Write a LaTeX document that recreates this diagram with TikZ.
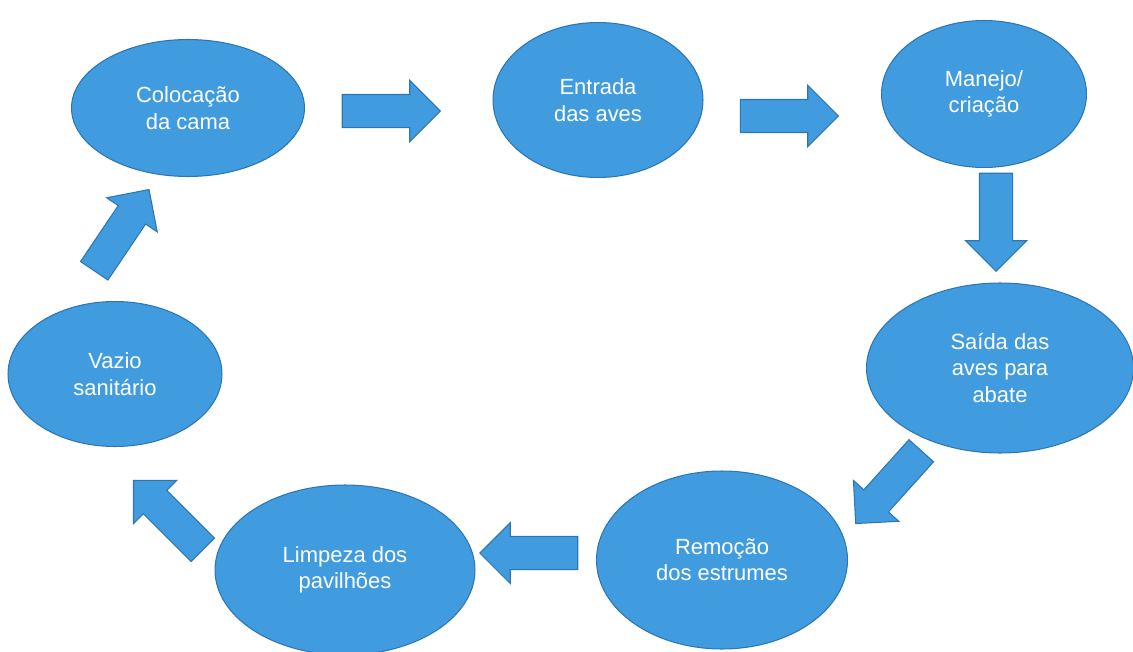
\documentclass[tikz,border=0pt]{standalone}
\usepackage{fontspec}
\setmainfont{Liberation Sans}
\usetikzlibrary{shapes.geometric, shapes.arrows}

\definecolor{etapa}{RGB}{64,156,222}
\definecolor{contorno}{RGB}{44,118,182}

\tikzset{
    etapa/.style={ellipse, fill=etapa, draw=contorno, line width=0.6pt,
        text=white, align=center, inner sep=0pt,
        font=\fontsize{12.5}{15}\selectfont},
    seta/.style={single arrow, fill=etapa, draw=contorno, line width=0.6pt,
        minimum height=1.96cm, minimum width=1.2cm,
        inner xsep=0pt, inner ysep=0.32cm,
        single arrow head extend=0.28cm, single arrow head indent=0pt}
}

\begin{document}
\begin{tikzpicture}[x=0.02cm, y=-0.02cm]
    \useasboundingbox (0,0) rectangle (1133,652);

    % etapas do ciclo
    \node[etapa, minimum width=4.66cm, minimum height=2.74cm] (cama) at (188,108)
        {Colocação\\da cama};
    \node[etapa, minimum width=4.2cm, minimum height=3.1cm] (entrada) at (598,100)
        {Entrada\\das aves};
    \node[etapa, minimum width=4.1cm, minimum height=2.94cm] (manejo) at (984,94)
        {Manejo/\\criação};
    \node[etapa, minimum width=5.34cm, minimum height=3.4cm] (saida) at (1000,368)
        {Saída das\\aves para\\abate};
    \node[etapa, minimum width=5.02cm, minimum height=3.56cm] (remocao) at (722,560)
        {Remoção\\dos estrumes};
    \node[etapa, minimum width=5.2cm, minimum height=3.4cm] (limpeza) at (345,570)
        {Limpeza dos\\pavilhões};
    \node[etapa, minimum width=4.28cm, minimum height=2.9cm] (vazio) at (115,374)
        {Vazio\\sanitário};

    % setas
    \node[seta] (s1) at (383,111) {};
    \node[seta] (s2) at (781,116) {};
    \node[seta, rotate=-90] (s3) at (996,214) {};
    \node[seta, rotate=228] (s4) at (894,481) {};
    \node[seta, rotate=180] (s5) at (537,553) {};
    \node[seta, rotate=135] (s6) at (174,521) {};
    \node[seta, rotate=56] (s7) at (117,237) {};
\end{tikzpicture}
\end{document}
